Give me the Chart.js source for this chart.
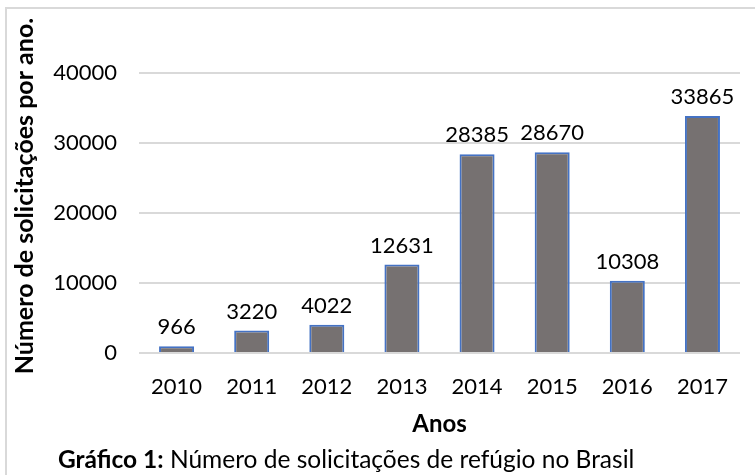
<!DOCTYPE html>
<html>
<head>
<meta charset="utf-8">
<script src="https://cdn.jsdelivr.net/npm/chart.js@4.4.0/dist/chart.umd.min.js"></script>
<style>
	html, body { margin: 0; padding: 0; background: #fff; }
	#wrap { width: 755px; height: 475px; position: relative; }
</style>
</head>
<body>
<div id="wrap"><canvas id="chart" width="755" height="475"></canvas></div>
<script>
const years = ['2010', '2011', '2012', '2013', '2014', '2015', '2016', '2017'];
const requests = [966, 3220, 4022, 12631, 28385, 28670, 10308, 33865];
const yTicks = [0, 10000, 20000, 30000, 40000];

const yTitle = 'Número de solicitações por ano.';
const xTitle = 'Anos';
const captionBold = 'Gráfico 1:';
const captionText = ' Número de solicitações de refúgio no Brasil';

const FONT = 'Lato, "Open Sans", sans-serif';

// texts, frame and value labels drawn by hand
const decorations = {
	id: 'decorations',
	beforeDraw(chart) {
		const ctx = chart.ctx;
		ctx.save();
		ctx.strokeStyle = '#d9d9d9';
		ctx.lineWidth = 2;
		ctx.strokeRect(6, 8, 780, 500);
		ctx.restore();
	},
	afterDatasetsDraw(chart) {
		const ctx = chart.ctx;
		const area = chart.chartArea;
		ctx.save();
		ctx.fillStyle = '#000';

		// value labels
		ctx.font = '22px ' + FONT;
		ctx.textAlign = 'center';
		ctx.textBaseline = 'middle';
		chart.getDatasetMeta(0).data.forEach((bar, i) => {
			ctx.fillText(String(requests[i]), bar.x, bar.y - 19);
		});

		// y title
		ctx.save();
		ctx.translate(25, 196);
		ctx.rotate(-Math.PI / 2);
		ctx.font = 'bold 25px ' + FONT;
		ctx.fillText(yTitle, 0, 0);
		ctx.restore();

		// x title
		ctx.font = 'bold 24px ' + FONT;
		ctx.fillText(xTitle, (area.left + area.right) / 2, 424);

		// caption
		ctx.textAlign = 'left';
		ctx.font = 'bold 24.5px ' + FONT;
		const w = ctx.measureText(captionBold).width;
		ctx.fillText(captionBold, 58, 460);
		ctx.font = '24.5px ' + FONT;
		ctx.fillText(captionText, 58 + w, 460);

		ctx.restore();
	}
};

new Chart(document.getElementById('chart'), {
	type: 'bar',
	data: {
		labels: years,
		datasets: [{
			data: requests,
			backgroundColor: '#767171',
			borderColor: '#4472c4',
			borderWidth: 2,
			barPercentage: 0.466,
			categoryPercentage: 1
		}]
	},
	options: {
		responsive: false,
		animation: false,
		layout: {
			padding: { left: 0, top: 73, right: 15, bottom: 0 }
		},
		plugins: {
			legend: { display: false },
			tooltip: { enabled: false }
		},
		scales: {
			x: {
				grid: { display: false, drawTicks: false },
				border: { display: false },
				ticks: {
					color: '#000',
					font: { family: FONT, size: 22 },
					padding: 21,
					maxRotation: 0
				},
				afterFit: (scale) => { scale.height = 122; }
			},
			y: {
				min: 0,
				max: 40000,
				afterBuildTicks: (scale) => { scale.ticks = yTicks.map(v => ({ value: v })); },
				grid: { color: '#d9d9d9', lineWidth: 2, drawTicks: false },
				border: { display: false },
				ticks: {
					color: '#000',
					font: { family: FONT, size: 22 },
					padding: 22,
					callback: (v) => String(v)
				},
				afterFit: (scale) => { scale.width = 139; }
			}
		}
	},
	plugins: [decorations]
});
</script>
</body>
</html>
